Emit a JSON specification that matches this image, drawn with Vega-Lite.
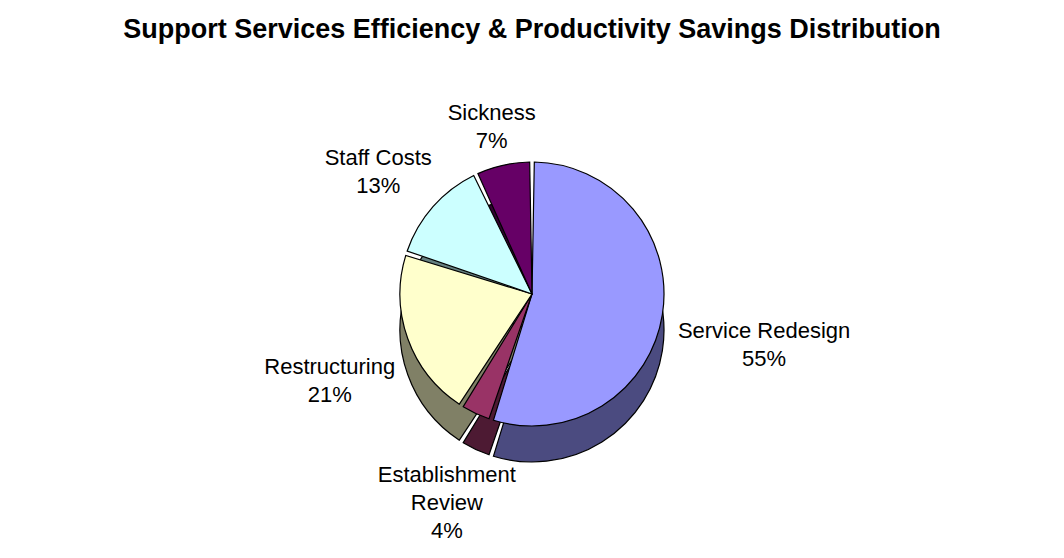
{
  "$schema": "https://vega.github.io/schema/vega-lite/v6.json",
  "width": 1064,
  "height": 558,
  "autosize": {"type": "fit", "contains": "padding"},
  "padding": {"top": 16, "left": 0, "right": 0, "bottom": 22},
  "background": "white",
  "title": {
    "text": "Support Services Efficiency & Productivity Savings Distribution",
    "font": "Liberation Sans",
    "fontSize": 27,
    "fontWeight": "bold",
    "color": "black",
    "anchor": "middle",
    "offset": 8
  },
  "config": {"view": {"stroke": null}},
  "data": {
    "values": [
      {"category": "Service Redesign", "value": 55, "order": 1, "label": "Service Redesign\n55%"},
      {"category": "Establishment Review", "value": 4, "order": 2, "label": "Establishment\nReview\n4%"},
      {"category": "Restructuring", "value": 21, "order": 3, "label": "Restructuring\n21%"},
      {"category": "Staff Costs", "value": 13, "order": 4, "label": "Staff Costs\n13%"},
      {"category": "Sickness", "value": 7, "order": 5, "label": "Sickness\n7%"}
    ]
  },
  "encoding": {
    "theta": {"field": "value", "type": "quantitative", "stack": true},
    "order": {"field": "order", "type": "quantitative"}
  },
  "layer": [
    {
      "mark": {"type": "arc", "outerRadius": 132, "yOffset": 36, "stroke": "black", "strokeWidth": 1.2, "padAngle": 0.035},
      "encoding": {
        "color": {
          "field": "category",
          "type": "nominal",
          "scale": {
            "domain": ["Service Redesign", "Establishment Review", "Restructuring", "Staff Costs", "Sickness"],
            "range": ["#4B4B80", "#4D1A33", "#808066", "#668080", "#330033"]
          },
          "legend": null
        }
      }
    },
    {
      "mark": {"type": "arc", "outerRadius": 132, "stroke": "black", "strokeWidth": 1.2, "padAngle": 0.035},
      "encoding": {
        "color": {
          "field": "category",
          "type": "nominal",
          "scale": {
            "domain": ["Service Redesign", "Establishment Review", "Restructuring", "Staff Costs", "Sickness"],
            "range": ["#9999FF", "#993366", "#FFFFCC", "#CCFFFF", "#660066"]
          },
          "legend": null
        }
      }
    },
    {
      "mark": {"type": "text", "radius": 235, "lineBreak": "\n", "font": "Liberation Sans", "fontSize": 22, "color": "black", "lineHeight": 28},
      "encoding": {"text": {"condition": {"test": "datum.category === 'Service Redesign'", "field": "label"}, "value": ""}}
    },
    {
      "mark": {"type": "text", "radius": 200, "lineBreak": "\n", "font": "Liberation Sans", "fontSize": 22, "color": "black", "lineHeight": 28},
      "encoding": {"text": {"condition": {"test": "datum.category === 'Establishment Review'", "field": "label"}, "value": ""}}
    },
    {
      "mark": {"type": "text", "radius": 215, "lineBreak": "\n", "font": "Liberation Sans", "fontSize": 22, "color": "black", "lineHeight": 28},
      "encoding": {"text": {"condition": {"test": "datum.category === 'Restructuring'", "field": "label"}, "value": ""}}
    },
    {
      "mark": {"type": "text", "radius": 205, "lineBreak": "\n", "font": "Liberation Sans", "fontSize": 22, "color": "black", "lineHeight": 28},
      "encoding": {"text": {"condition": {"test": "datum.category === 'Staff Costs'", "field": "label"}, "value": ""}}
    },
    {
      "mark": {"type": "text", "radius": 185, "lineBreak": "\n", "font": "Liberation Sans", "fontSize": 22, "color": "black", "lineHeight": 28},
      "encoding": {"text": {"condition": {"test": "datum.category === 'Sickness'", "field": "label"}, "value": ""}}
    }
  ],
  "resolve": {"scale": {"color": "independent"}}
}
